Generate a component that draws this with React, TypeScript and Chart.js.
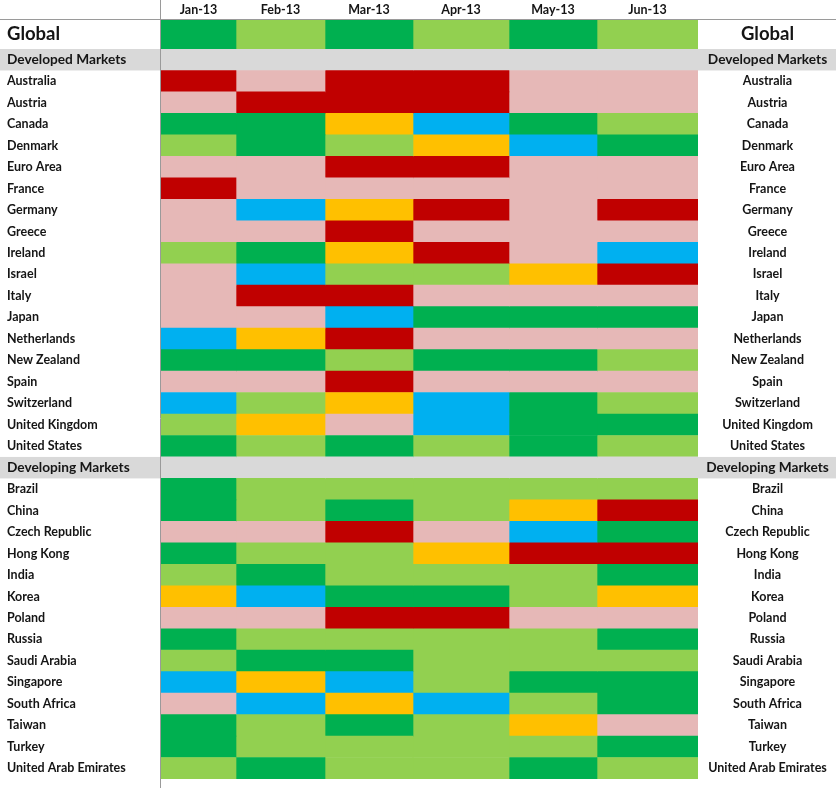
import React, { useEffect, useRef } from 'react';
import { Chart, registerables } from 'chart.js';

Chart.register(...registerables);

// ---------------- data ----------------
const months = ['Jan-13', 'Feb-13', 'Mar-13', 'Apr-13', 'May-13', 'Jun-13'];

const globalLabel = 'Global';
const globalStatus = 'GLGLGL';

const developedHeader = 'Developed Markets';
const developedMarkets = [
  'Australia', 'Austria', 'Canada', 'Denmark', 'Euro Area', 'France', 'Germany', 'Greece',
  'Ireland', 'Israel', 'Italy', 'Japan', 'Netherlands', 'New Zealand', 'Spain', 'Switzerland',
  'United Kingdom', 'United States',
];
// one letter per month: G dark green, L light green, B blue, Y amber, R red, P pink
const developedStatus = [
  'RPRRPP', 'PRRRPP', 'GGYBGL', 'LGLYBG', 'PPRRPP', 'RPPPPP', 'PBYRPR', 'PPRPPP',
  'LGYRPB', 'PBLLYR', 'PRRPPP', 'PPBGGG', 'BYRPPP', 'GGLGGL', 'PPRPPP', 'BLYBGL',
  'LYPBGG', 'GLGLGL',
];

const developingHeader = 'Developing Markets';
const developingMarkets = [
  'Brazil', 'China', 'Czech Republic', 'Hong Kong', 'India', 'Korea', 'Poland', 'Russia',
  'Saudi Arabia', 'Singapore', 'South Africa', 'Taiwan', 'Turkey', 'United Arab Emirates',
];
const developingStatus = [
  'GLLLLL', 'GLGLYR', 'PPRPBG', 'GLLYRR', 'LGLLLG', 'YBGGLY', 'PPRRPP', 'GLLLLG',
  'LGGLLL', 'BYBLGG', 'PBYBLG', 'GLGLYP', 'GLLLLG', 'LGLLGL',
];

const headerStatus = 'HHHHHH';

// ---------------- styles / layout ----------------
const statusColors: Record<string, string> = {
  G: '#00B050',
  L: '#92D050',
  B: '#00B0F0',
  Y: '#FFC000',
  R: '#C00000',
  P: '#E6B8B7',
  H: '#D9D9D9',
};
const W = 836;
const H = 788;
const TOP_H = 49;
const colWidths = [75, 89, 88, 96, 88, 101];
const LEFT_EDGE = 161;
const LEFT_PAD = 7;
const RIGHT_W = 138;
const FONT = 'Lato, "Open Sans", "DejaVu Sans", sans-serif';
const TEXT = '#151515';
const LINE = '#9a9a9a';
const ROW_SIZE = 12.5;
const HEAD_SIZE = 13.7;
const GLOBAL_SIZE = 18.5;

const edges: number[] = [0];
colWidths.forEach((w, i) => edges.push(edges[i] + w));
const total = edges[edges.length - 1];
const centers = colWidths.map((w, i) => edges[i] + w / 2);

function measure(text: string, size: number) {
  const c = document.createElement('canvas').getContext('2d')!;
  c.font = `normal bold ${size}px ${FONT}`;
  return c.measureText(text).width;
}

const framePlugin = {
  id: 'frame',
  beforeDraw(chart: any, _args: any, opts: any) {
    const { ctx, scales } = chart;
    const y = scales.y;
    ctx.save();
    ctx.fillStyle = statusColors.H;
    (opts.headerRows || []).forEach((i: number) => {
      const a = y.getPixelForValue(i - 0.5);
      const b = y.getPixelForValue(i + 0.5);
      ctx.fillRect(0, Math.min(a, b), chart.width, Math.abs(b - a));
    });
    ctx.restore();
  },
  afterDraw(chart: any, _args: any, opts: any) {
    const { ctx, chartArea } = chart;
    ctx.save();
    ctx.strokeStyle = LINE;
    ctx.lineWidth = 1;
    ctx.beginPath();
    ctx.moveTo(chartArea.left - 0.5, 0);
    ctx.lineTo(chartArea.left - 0.5, chart.height);
    if (opts.topLine) {
      ctx.moveTo(0, chartArea.top - 0.5);
      ctx.lineTo(chart.width, chartArea.top - 0.5);
    }
    ctx.stroke();
    ctx.restore();
  },
};

function noPadding(axis: any) {
  axis.paddingTop = 0;
  axis.paddingBottom = 0;
  axis.paddingLeft = 0;
  axis.paddingRight = 0;
}

function buildConfig(labels: string[], statuses: string[], sizes: number[], top: boolean): any {
  const widest = Math.max(...labels.map((l, i) => measure(l, sizes[i])));
  const rightPad = Math.max(0, RIGHT_W / 2 + 0.5 - widest / 2);
  const headerRows = statuses
    .map((s, i) => (s === headerStatus ? i : -1))
    .filter((i) => i >= 0);
  const datasets = months.map((m, mi) => ({
    label: m,
    data: labels.map(() => [edges[mi], edges[mi + 1]]),
    backgroundColor: statuses.map((s) => statusColors[s[mi]]),
    borderWidth: 0,
    borderSkipped: false,
    grouped: false,
    barPercentage: 1,
    categoryPercentage: 1,
  }));
  const tickFont = (ctx: any) => ({
    family: FONT,
    weight: 'bold',
    size: sizes[ctx.index] ?? ROW_SIZE,
  });
  return {
    type: 'bar',
    data: { labels, datasets },
    plugins: [framePlugin],
    options: {
      indexAxis: 'y',
      responsive: false,
      animation: false,
      events: [],
      layout: { padding: { left: LEFT_PAD, right: 0, top: 0, bottom: top ? 0 : 9 } },
      plugins: {
        legend: { display: false },
        tooltip: { enabled: false },
        frame: { headerRows, topLine: top },
      },
      scales: {
        x: {
          type: 'linear',
          position: 'top',
          min: 0,
          max: total,
          display: top,
          grid: { display: false, drawTicks: false },
          border: { display: false },
          afterBuildTicks: (axis: any) => {
            axis.ticks = centers.map((v) => ({ value: v }));
          },
          afterFit: (axis: any) => {
            noPadding(axis);
            axis.height = top ? 20 : 0;
          },
          ticks: {
            autoSkip: false,
            maxRotation: 0,
            minRotation: 0,
            padding: 3,
            color: TEXT,
            font: { family: FONT, weight: 'bold', size: ROW_SIZE },
            callback: (_v: any, i: number) => months[i],
          },
        },
        y: {
          type: 'category',
          position: 'left',
          offset: true,
          grid: { display: false, drawTicks: false },
          border: { display: false },
          afterFit: (axis: any) => {
            noPadding(axis);
            axis.width = LEFT_EDGE - LEFT_PAD;
          },
          ticks: {
            crossAlign: 'far',
            autoSkip: false,
            padding: 0,
            color: TEXT,
            font: tickFont,
          },
        },
        yRight: {
          type: 'category',
          position: 'right',
          labels,
          offset: true,
          grid: { display: false, drawTicks: false },
          border: { display: false },
          afterFit: (axis: any) => {
            noPadding(axis);
            axis.width = RIGHT_W;
          },
          ticks: {
            crossAlign: 'center',
            autoSkip: false,
            padding: rightPad,
            color: TEXT,
            font: tickFont,
          },
        },
      },
    },
  };
}

function HeatChart(props: {
  labels: string[];
  statuses: string[];
  sizes: number[];
  top: boolean;
  height: number;
  offsetTop: number;
}) {
  const ref = useRef<HTMLCanvasElement>(null);
  useEffect(() => {
    if (!ref.current) return;
    const chart = new Chart(ref.current, buildConfig(props.labels, props.statuses, props.sizes, props.top));
    return () => chart.destroy();
  }, []);
  return (
    <canvas
      ref={ref}
      width={W}
      height={props.height}
      style={{ position: 'absolute', left: 0, top: props.offsetTop, width: W, height: props.height, display: 'block' }}
    />
  );
}

export default function App() {
  const bodyLabels = [developedHeader, ...developedMarkets, developingHeader, ...developingMarkets];
  const bodyStatuses = [headerStatus, ...developedStatus, headerStatus, ...developingStatus];
  const bodySizes = bodyStatuses.map((s) => (s === headerStatus ? HEAD_SIZE : ROW_SIZE));
  return (
    <div style={{ position: 'absolute', left: 0, top: 0, width: W, height: H, background: '#ffffff', overflow: 'hidden' }}>
      <HeatChart
        labels={[globalLabel]}
        statuses={[globalStatus]}
        sizes={[GLOBAL_SIZE]}
        top={true}
        height={TOP_H}
        offsetTop={0}
      />
      <HeatChart
        labels={bodyLabels}
        statuses={bodyStatuses}
        sizes={bodySizes}
        top={false}
        height={H - TOP_H}
        offsetTop={TOP_H}
      />
    </div>
  );
}
